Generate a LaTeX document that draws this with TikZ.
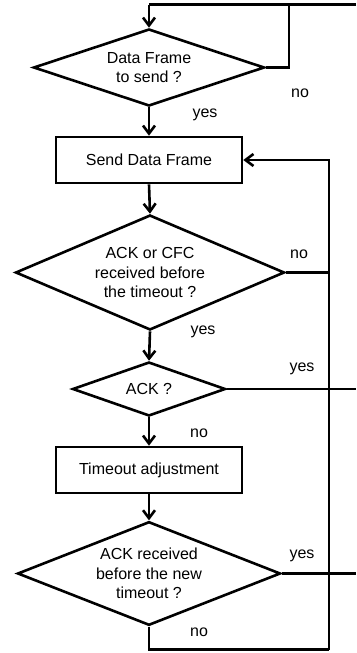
\documentclass[tikz,border=0pt]{standalone}
\usepackage{fontspec}
\setmainfont{Liberation Sans}
\usetikzlibrary{shapes.geometric,arrows.meta}
\begin{document}
\begin{tikzpicture}[x=1pt,y=-1pt,
  every node/.style={font=\fontsize{16}{19.5}\selectfont},
  line/.style={line width=2.6pt},
  arr/.style={line width=2.6pt, -{Straight Barb[length=8pt,width=12pt]}},
  dec/.style={draw, line width=2.6pt, diamond, aspect=2, inner sep=0pt, align=center},
  procbox/.style={draw, line width=2.6pt, rectangle, minimum width=186pt, minimum height=46pt, inner sep=0pt, align=center},
  lbl/.style={inner sep=0pt}]
\useasboundingbox (0,0) rectangle (356,653);
% nodes
\node[dec, minimum width=231pt, minimum height=77pt] (d1) at (149,67.5) {Data Frame\\to send ?};
\node[procbox] (b1) at (149,160) {Send Data Frame};
\node[dec, minimum width=269pt, minimum height=115pt] (d2) at (150,272.5) {ACK or CFC\\received before\\the timeout ?};
\node[dec, minimum width=153pt, minimum height=54pt] (d3) at (149,389) {ACK ?};
\node[procbox] (b2) at (149,470) {Timeout adjustment};
\node[dec, minimum width=263pt, minimum height=101pt] (d4) at (149,573.5) {ACK received\\before the new\\timeout ?};
% coordinates
\coordinate (tr) at (356,4.7);
\coordinate (tl) at (149,4.7);
\coordinate (j1) at (289,4.7);
\coordinate (bl) at (149,649.5);
\coordinate (br) at (329,649.5);
\coordinate (edge) at (356,0);
% connectors
\draw[line] (tr) -- (tl);
\draw[arr] (tl) -- (d1.north);
\draw[line] (d1.east) -| (j1);
\draw[arr] (d1.south) -- (b1.north);
\draw[arr] (b1.south) -- (d2.north);
\draw[arr] (d2.south) -- (d3.north);
\draw[arr] (d3.south) -- (b2.north);
\draw[arr] (b2.south) -- (d4.north);
\draw[line] (d4.south) -- (bl) -- (br);
\draw[arr] (br) |- (b1.east);
\draw[line] (d2.east) -- (d2.east -| br);
\draw[line] (d3.east) -- (d3.east -| edge);
\draw[line] (d4.east) -- (d4.east -| edge);
% labels
\node[lbl] (l1) at (300,93) {no};
\node[lbl] (l2) at (205,115) {yes};
\node[lbl] (l3) at (299,254) {no};
\node[lbl] (l4) at (203,332) {yes};
\node[lbl] (l5) at (302,369) {yes};
\node[lbl] (l6) at (199,433) {no};
\node[lbl] (l7) at (302,556) {yes};
\node[lbl] (l8) at (199,632) {no};
\end{tikzpicture}
\end{document}
